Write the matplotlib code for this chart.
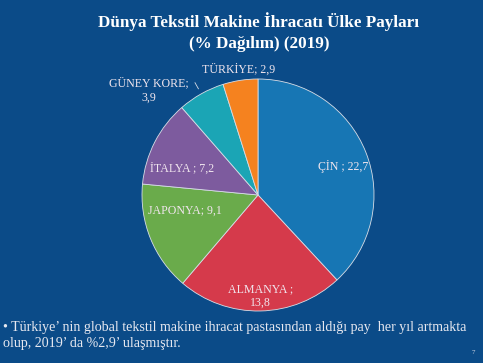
import matplotlib
matplotlib.use('Agg')
import matplotlib.pyplot as plt
import numpy as np

countries = ['ÇİN', 'ALMANYA', 'JAPONYA', 'İTALYA', 'GÜNEY KORE', 'TÜRKİYE']
shares = [22.7, 13.8, 9.1, 7.2, 3.9, 2.9]
label_texts = ['ÇİN ; 22,7', 'ALMANYA ;\n13,8', 'JAPONYA; 9,1', 'İTALYA ; 7,2',
               'GÜNEY KORE;\n3,9', 'TÜRKİYE; 2,9']
colors = ['#1776b4', '#d53a4b', '#6aab4b', '#7d5b9e', '#1ba5b5', '#f5821f']
# radial distance of each label (in pie radii)
label_r = [0.77, 0.87, 0.64, 0.69, 1.30, 1.09]
label_shift = [-3, 0, -10, 8, 17, 0]   # degrees

bg = '#0b4b88'
plt.rcParams['font.family'] = ['Liberation Serif', 'DejaVu Serif']

W, H = 483, 363
fig = plt.figure(figsize=(W / 100, H / 100), dpi=100, facecolor=bg)

cx, cy, r = 258, 363 - 195, 116
ax = fig.add_axes([(cx - r) / W, (cy - r) / H, 2 * r / W, 2 * r / H])
ax.set_facecolor(bg)
wedges, _ = ax.pie(shares, colors=colors, startangle=90, counterclock=False,
                   radius=1.0, wedgeprops=dict(edgecolor='#d8dde6', linewidth=0.6))
ax.set_xlim(-1, 1)
ax.set_ylim(-1, 1)
ax.axis('off')

for w, txt, lr, sh in zip(wedges, label_texts, label_r, label_shift):
    ang = np.deg2rad((w.theta1 + w.theta2) / 2 + sh)
    ax.text(lr * np.cos(ang), lr * np.sin(ang), txt, ha='center', va='center',
            fontsize=8.6, color='#f1e6ee', clip_on=False, linespacing=1.25)

# small leader line for GÜNEY KORE
kw = wedges[4]
a = np.deg2rad((kw.theta1 + kw.theta2) / 2)
ax.plot([1.11 * np.cos(a), 1.05 * np.cos(a)], [1.11 * np.sin(a), 1.05 * np.sin(a)],
        color='#d8dde6', lw=0.6, clip_on=False)

fig.text(259 / W, 1 - 22 / H, 'Dünya Tekstil Makine İhracatı Ülke Payları',
         ha='center', va='center', fontsize=12.3, fontweight='bold', color='white')
fig.text(259 / W, 1 - 44 / H, '(% Dağılım) (2019)',
         ha='center', va='center', fontsize=12.3, fontweight='bold', color='white')

fig.text(3 / W, 1 - 327 / H,
         '• Türkiye’ nin global tekstil makine ihracat pastasından aldığı pay  her yıl artmakta',
         ha='left', va='center', fontsize=10.1, color='#e6e8f0')
fig.text(3 / W, 1 - 343 / H, 'olup, 2019’ da %2,9’ ulaşmıştır.',
         ha='left', va='center', fontsize=10.1, color='#e6e8f0')
fig.text(473 / W, 1 - 353 / H, '7', ha='center', va='center', fontsize=5, color='#c8d0e0')

fig.savefig('out.png', dpi=100, facecolor=bg)
